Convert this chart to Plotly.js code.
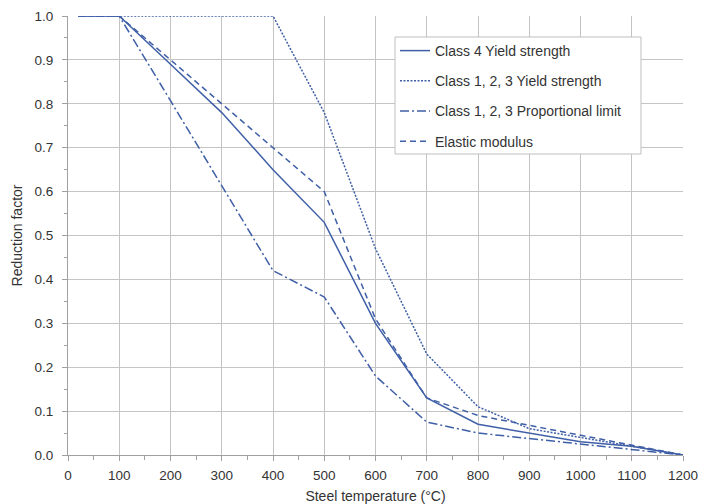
<!DOCTYPE html>
<html>
<head>
<meta charset="utf-8">
<script src="https://cdn.plot.ly/plotly-3.0.1.min.js"></script>
<style>html,body{margin:0;padding:0;background:#fff;}#chart{width:702px;height:504px;}</style>
</head>
<body>
<div id="chart"></div>
<script>
const temperature = [20, 100, 200, 300, 400, 500, 600, 700, 800, 900, 1000, 1100, 1200];
const class4Yield = [1, 1, 0.89, 0.78, 0.65, 0.53, 0.30, 0.13, 0.07, 0.05, 0.03, 0.02, 0];
const class123Yield = [1, 1, 1, 1, 1, 0.78, 0.47, 0.23, 0.11, 0.06, 0.04, 0.02, 0];
const class123Prop = [1, 1, 0.807, 0.613, 0.420, 0.360, 0.180, 0.075, 0.050, 0.0375, 0.025, 0.0125, 0];
const elasticModulus = [1, 1, 0.90, 0.80, 0.70, 0.60, 0.31, 0.13, 0.09, 0.0675, 0.045, 0.0225, 0];
const seriesNames = ["Class 4 Yield strength", "Class 1, 2, 3 Yield strength", "Class 1, 2, 3 Proportional limit", "Elastic modulus"];

const blue = "#3f5fa6";
const fontFam = "Liberation Sans, Arial, sans-serif";
const txt = "#333333";

function tr(y, name, dash, width, g) {
  return {x: temperature, y: y, name: name, type: "scatter", mode: "lines",
    line: {color: blue, width: width, dash: dash}, legendgroup: g};
}
const data = [
  tr(class4Yield, seriesNames[0], "solid", 1.5, "a"),
  tr(class123Yield, seriesNames[1], "2px,1.5px", 1.5, "b"),
  tr(class123Prop, seriesNames[2], "9px,3px,2px,3px", 1.5, "c"),
  tr(elasticModulus, seriesNames[3], "6px,4px", 1.5, "d")
];

const plotW = 615, plotH = 439, mLeft = 68, mTop = 16;
const layout = {
  width: 702, height: 504,
  margin: {l: mLeft, r: 19, t: mTop, b: 49},
  paper_bgcolor: "#fff", plot_bgcolor: "#fff",
  font: {family: fontFam, size: 13.5, color: txt},
  showlegend: true,
  legend: {x: (395 - mLeft) / plotW, y: (455 - 35) / plotH, xanchor: "left", yanchor: "top",
    bgcolor: "rgba(0,0,0,0)", borderwidth: 0,
    font: {family: fontFam, size: 14, color: txt}, tracegroupgap: 9,
    itemwidth: 30},
  shapes: [{type: "rect", xref: "paper", yref: "paper", layer: "above",
    x0: (395 - mLeft) / plotW, x1: (641 - mLeft) / plotW,
    y0: (455 - 154) / plotH, y1: (455 - 37) / plotH,
    line: {color: "#bfbfbf", width: 1}, fillcolor: "#ffffff"}],
  xaxis: {range: [0, 1200], dtick: 100, tick0: 0, showgrid: true, gridcolor: "#c4c4c4", gridwidth: 1,
    showline: true, linecolor: "#a0a0a0", linewidth: 1, ticks: "outside", ticklen: 5, tickcolor: "#a0a0a0",
    ticklabelstandoff: 3,
    minor: {dtick: 50, ticks: "outside", ticklen: 4, tickcolor: "#a0a0a0", showgrid: false},
    zeroline: false, fixedrange: true,
    title: {text: "Steel temperature (°C)", font: {size: 14, color: txt}, standoff: 18}},
  yaxis: {range: [0, 1.0], dtick: 0.1, tick0: 0, tickformat: ".1f", showgrid: true, gridcolor: "#c4c4c4", gridwidth: 1,
    showline: true, linecolor: "#a0a0a0", linewidth: 1, ticks: "outside", ticklen: 5, tickcolor: "#a0a0a0",
    ticklabelstandoff: 6,
    minor: {dtick: 0.05, ticks: "outside", ticklen: 3, tickcolor: "#a0a0a0", showgrid: false},
    zeroline: false, fixedrange: true,
    title: {text: "Reduction factor", font: {size: 14, color: txt}, standoff: 8}}
};
Plotly.newPlot("chart", data, layout, {displayModeBar: false, staticPlot: true});
</script>
</body>
</html>
